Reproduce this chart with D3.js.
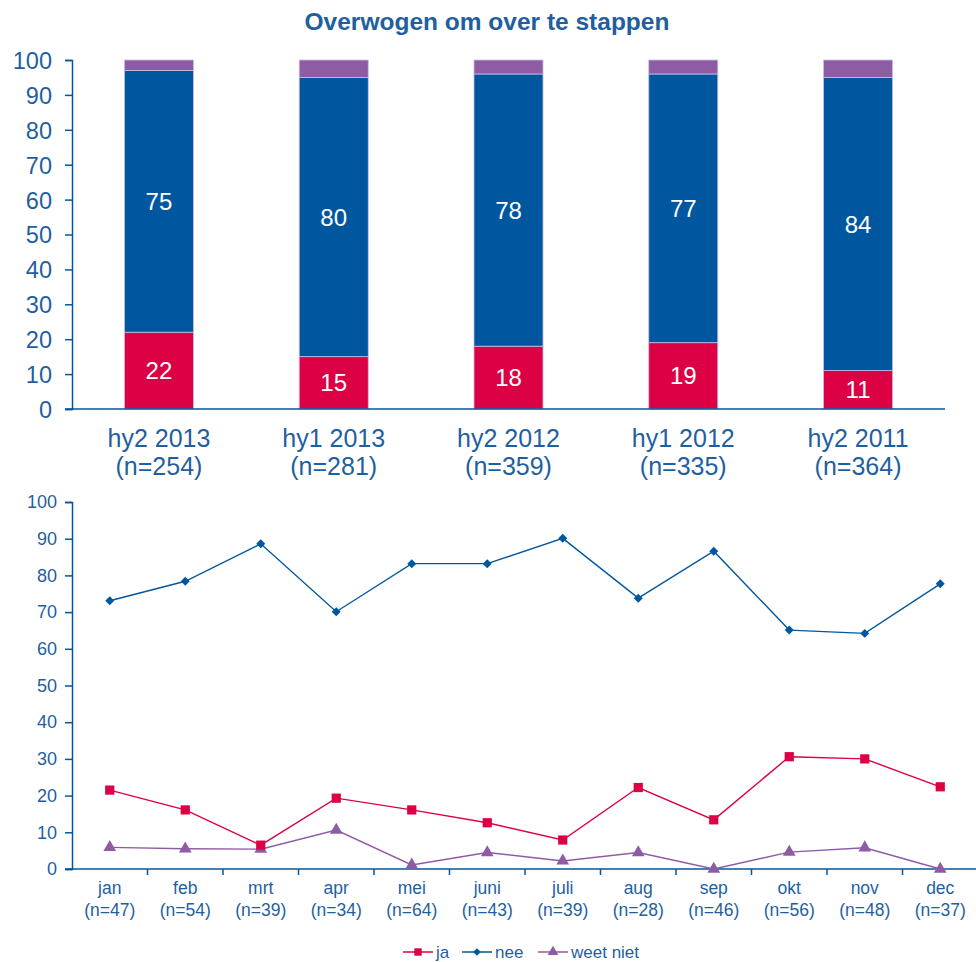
<!DOCTYPE html>
<html>
<head>
<meta charset="utf-8">
<script src="https://cdn.jsdelivr.net/npm/d3@7"></script>
<style>
  body { margin: 0; background: #fff; }
  text { font-family: "Liberation Sans", Arial, sans-serif; }
</style>
</head>
<body>
<div id="chart"></div>
<script>
// top chart data (half years)
var periods = ["hy2 2013", "hy1 2013", "hy2 2012", "hy1 2012", "hy2 2011"];
var periodN = ["(n=254)", "(n=281)", "(n=359)", "(n=335)", "(n=364)"];
var barJa = [22, 15, 18, 19, 11];
var barNee = [75, 80, 78, 77, 84];
var barWeetNiet = [3, 5, 4, 4, 5];

// bottom chart data (months)
var months = ["jan", "feb", "mrt", "apr", "mei", "juni", "juli", "aug", "sep", "okt", "nov", "dec"];
var monthN = ["(n=47)", "(n=54)", "(n=39)", "(n=34)", "(n=64)", "(n=43)", "(n=39)", "(n=28)", "(n=46)", "(n=56)", "(n=48)", "(n=37)"];
var lineJa = [21.5, 16.1, 6.5, 19.3, 16.1, 12.6, 7.9, 22.2, 13.4, 30.6, 30.0, 22.4];
var lineNee = [73.1, 78.4, 88.6, 70.1, 83.2, 83.2, 90.1, 73.8, 86.6, 65.1, 64.2, 77.7];
var lineWeetNiet = [5.9, 5.5, 5.4, 10.6, 1.1, 4.5, 2.2, 4.5, 0, 4.6, 5.8, 0];

var yTicks = [0, 10, 20, 30, 40, 50, 60, 70, 80, 90, 100];

var colJa = "#dc0045", colNee = "#00579f", colWn = "#8e5ba5", colText = "#1f5f9f";

var svg = d3.select("#chart").append("svg")
    .attr("width", 976)
    .attr("height", 962);

// title
svg.append("text")
    .attr("x", 487).attr("y", 30)
    .attr("text-anchor", "middle")
    .style("font-size", "24.5px").style("font-weight", "bold")
    .style("fill", colText)
    .text("Overwogen om over te stappen");

// ---------- top: stacked bars ----------
var x1 = d3.scaleBand().domain(periods).range([72, 945]).paddingInner(0.605).paddingOuter(0.3);
var y1 = d3.scaleLinear().domain([0, 100]).range([409, 60]);

var stackData = periods.map(function(p, i) {
  return {p: p, ja: barJa[i], nee: barNee[i], wn: barWeetNiet[i]};
});
var series = d3.stack().keys(["ja", "nee", "wn"])(stackData);
var colors = {ja: colJa, nee: colNee, wn: colWn};

var gBars = svg.append("g");
series.forEach(function(s) {
  gBars.selectAll(null)
    .data(s)
    .enter()
    .append("rect")
      .attr("x", d => x1(d.data.p))
      .attr("width", x1.bandwidth())
      .attr("y", d => y1(d[1]))
      .attr("height", d => y1(d[0]) - y1(d[1]))
      .style("fill", colors[s.key])
      .style("stroke", "#c8c0e0")
      .style("stroke-width", 0.8);
  if (s.key != "wn") {
    gBars.selectAll(null)
      .data(s)
      .enter()
      .append("text")
        .attr("x", d => x1(d.data.p) + x1.bandwidth() / 2)
        .attr("y", d => y1((d[0] + d[1]) / 2) + 8.5)
        .attr("text-anchor", "middle")
        .style("font-size", "24px")
        .style("fill", "#fff")
        .text(d => d.data[s.key]);
  }
});

var yAxis1 = svg.append("g")
    .attr("transform", "translate(72,0)")
    .call(d3.axisLeft(y1).tickValues(yTicks).tickSize(7).tickPadding(13));
var xAxis1 = svg.append("g")
    .attr("transform", "translate(0,409)")
    .call(d3.axisBottom(x1).tickSize(0).tickFormat(""));
xAxis1.select(".domain").attr("d", "M65,0H945");
[yAxis1, xAxis1].forEach(function(a) {
  a.select(".domain").style("stroke", colNee).style("stroke-width", 1.5);
  a.selectAll(".tick line").style("stroke", colNee).style("stroke-width", 1.5);
});
yAxis1.selectAll("text").style("font-size", "23.5px").style("fill", colText).attr("dy", "0.36em");

svg.append("g").selectAll("text")
  .data(periods)
  .enter()
  .append("text")
    .attr("x", d => x1(d) + x1.bandwidth() / 2)
    .attr("y", 447)
    .attr("text-anchor", "middle")
    .style("font-size", "25px").style("fill", colText)
    .each(function(d, i) {
      d3.select(this).append("tspan").attr("x", x1(d) + x1.bandwidth() / 2).text(d);
      d3.select(this).append("tspan").attr("x", x1(d) + x1.bandwidth() / 2).attr("dy", 28).text(periodN[i]);
    });

// ---------- bottom: lines ----------
var x2 = d3.scaleBand().domain(months).range([72, 978]);
var y2 = d3.scaleLinear().domain([0, 100]).range([869, 502]);

var yAxis2 = svg.append("g")
    .attr("transform", "translate(72,0)")
    .call(d3.axisLeft(y2).tickValues(yTicks).tickSize(7).tickPadding(8));
var xAxis2 = svg.append("g")
    .attr("transform", "translate(0,869)")
    .call(d3.axisBottom(x2).tickSize(0).tickFormat(""));
xAxis2.select(".domain").attr("d", "M65,0H976");
// ticks at category boundaries
xAxis2.selectAll(".bound")
  .data(months.slice(1))
  .enter()
  .append("line")
    .attr("x1", d => x2(d)).attr("x2", d => x2(d))
    .attr("y1", 0).attr("y2", 6);
[yAxis2, xAxis2].forEach(function(a) {
  a.select(".domain").style("stroke", colNee).style("stroke-width", 1.5);
  a.selectAll("line").style("stroke", colNee).style("stroke-width", 1.5);
});
yAxis2.selectAll("text").style("font-size", "18px").style("fill", colText);

svg.append("g").selectAll("text")
  .data(months)
  .enter()
  .append("text")
    .attr("y", 894)
    .attr("text-anchor", "middle")
    .style("font-size", "17.5px").style("fill", colText)
    .each(function(d, i) {
      var cx = x2(d) + x2.bandwidth() / 2;
      d3.select(this).append("tspan").attr("x", cx).text(d);
      d3.select(this).append("tspan").attr("x", cx).attr("dy", 22).text(monthN[i]);
    });

var lineGen = d3.line()
    .x((d, i) => x2(months[i]) + x2.bandwidth() / 2)
    .y(d => y2(d));

var lineSeries = [
  {name: "weet niet", values: lineWeetNiet, color: colWn, symbol: d3.symbolTriangle, size: 70, rot: 0},
  {name: "ja", values: lineJa, color: colJa, symbol: d3.symbolSquare, size: 85, rot: 0},
  {name: "nee", values: lineNee, color: colNee, symbol: d3.symbolSquare, size: 40, rot: 45}
];

lineSeries.forEach(function(s) {
  svg.append("path")
    .datum(s.values)
    .attr("d", lineGen)
    .style("fill", "none")
    .style("stroke", s.color)
    .style("stroke-width", 1.4);
  svg.append("g").selectAll("path")
    .data(s.values)
    .enter()
    .append("path")
      .attr("transform", (d, i) => "translate(" + (x2(months[i]) + x2.bandwidth() / 2) + "," + y2(d) + ") rotate(" + s.rot + ")")
      .attr("d", d3.symbol().type(s.symbol).size(s.size))
      .style("fill", s.color);
});

// legend
var legendItems = [
  {name: "ja", color: colJa, symbol: d3.symbolSquare, size: 55, rot: 0, x: 403},
  {name: "nee", color: colNee, symbol: d3.symbolSquare, size: 30, rot: 45, x: 462},
  {name: "weet niet", color: colWn, symbol: d3.symbolTriangle, size: 50, rot: 0, x: 538}
];
var legend = svg.append("g").attr("transform", "translate(0,952)");
legendItems.forEach(function(l) {
  legend.append("line")
    .attr("x1", l.x).attr("x2", l.x + 30)
    .attr("y1", 0).attr("y2", 0)
    .style("stroke", l.color).style("stroke-width", 1.5);
  legend.append("path")
    .attr("transform", "translate(" + (l.x + 15) + ",0) rotate(" + l.rot + ")")
    .attr("d", d3.symbol().type(l.symbol).size(l.size))
    .style("fill", l.color);
  legend.append("text")
    .attr("x", l.x + 33).attr("y", 6)
    .style("font-size", "17px").style("fill", colText)
    .text(l.name);
});
</script>
</body>
</html>
